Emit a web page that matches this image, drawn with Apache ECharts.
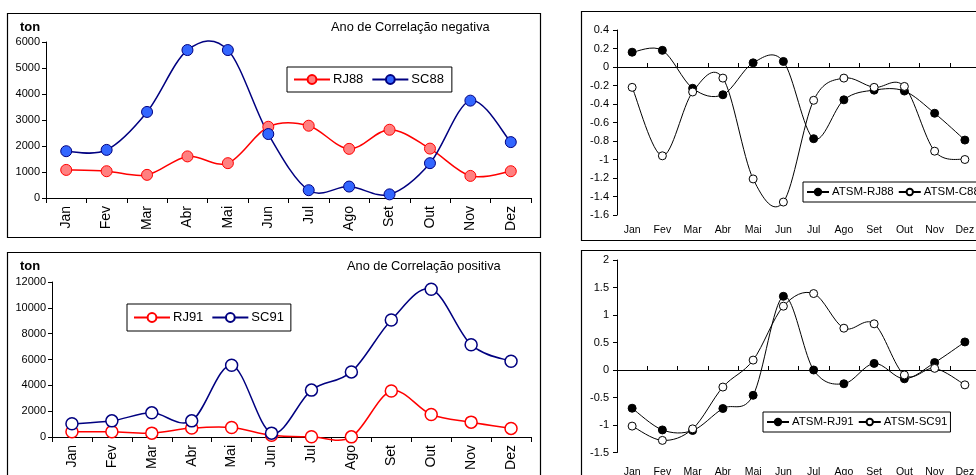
<!DOCTYPE html>
<html>
<head>
<meta charset="utf-8">
<script src="https://cdn.jsdelivr.net/npm/echarts@6/dist/echarts.min.js"></script>
<style>
html,body{margin:0;padding:0;background:#fff;}
#c{width:976px;height:475px;}
</style>
</head>
<body>
<div id="c"></div>
<script>
const months = ['Jan','Fev','Mar','Abr','Mai','Jun','Jul','Ago','Set','Out','Nov','Dez'];
const rj88 = [1080,1030,890,1600,1340,2740,2780,1890,2625,1900,850,1030];
const sc88 = [1800,1850,3310,5690,5690,2460,300,440,140,1340,3745,2150];
const rj91 = [400,400,300,690,740,130,20,10,3560,1740,1150,665];
const sc91 = [1020,1250,1870,1250,5550,300,3630,5040,9060,11440,7140,5860];
const atsmRJ88 = [0.16,0.18,-0.23,-0.30,0.045,0.06,-0.775,-0.355,-0.25,-0.26,-0.50,-0.79];
const atsmC88 = [-0.22,-0.96,-0.27,-0.12,-1.21,-1.46,-0.36,-0.12,-0.22,-0.21,-0.91,-1.00];
const atsmRJ91 = [-0.695,-1.09,-1.10,-0.70,-0.46,1.34,0.0,-0.25,0.12,-0.16,0.135,0.51];
const atsmSC91 = [-1.02,-1.28,-1.07,-0.31,0.18,1.16,1.39,0.76,0.84,-0.09,0.03,-0.27];

const FONT = '"Liberation Sans", Arial, sans-serif';
const TENSION = 1/6;
const chart = echarts.init(document.getElementById('c'), null, {renderer:'canvas'});

function leftXAxis(grid){
  return {type:'category', gridIndex:grid, data:months, boundaryGap:true,
    axisLine:{show:true, lineStyle:{color:'#000', width:1}},
    axisTick:{show:true, inside:false, length:5, lineStyle:{color:'#000'}},
    axisLabel:{rotate:90, fontSize:14, color:'#000', fontFamily:FONT, margin:8},
    splitLine:{show:false}};
}
function rightLabelAxis(grid, margin){
  return {type:'category', gridIndex:grid, data:months, boundaryGap:true, position:'bottom',
    axisLine:{show:false, onZero:false}, axisTick:{show:false},
    axisLabel:{fontSize:10.5, color:'#000', fontFamily:FONT, margin:margin},
    splitLine:{show:false}};
}
function rightZeroAxis(grid){
  return {type:'category', gridIndex:grid, data:months, boundaryGap:true, position:'bottom',
    axisLine:{show:true, onZero:true, lineStyle:{color:'#000', width:1}},
    axisTick:{show:true, inside:true, length:4, lineStyle:{color:'#000'}},
    axisLabel:{show:false}, splitLine:{show:false}};
}
function yAxis(grid, min, max, interval, fs, margin){
  return {type:'value', gridIndex:grid, min:min, max:max, interval:interval,
    axisLine:{show:true, lineStyle:{color:'#000', width:1}},
    axisTick:{show:true, inside:false, length:4, lineStyle:{color:'#000'}},
    axisLabel:{fontSize:fs, color:'#000', fontFamily:FONT, margin:margin, formatter:function(v){return '' + v;}},
    splitLine:{show:false}};
}
// markers (line itself hidden; the smoothed curve is drawn by the custom series)
function markerSeries(name, data, xi, yi, lineColor, fill, border, size, lw, bw){
  return {name:name, type:'line', data:data, xAxisIndex:xi, yAxisIndex:yi, z:3,
    symbol:'circle', symbolSize:size, showSymbol:true,
    lineStyle:{color:lineColor, width:lw, opacity:0},
    itemStyle:{color:fill, borderColor:border, borderWidth:bw},
    emphasis:{disabled:true}, silent:true};
}
// smoothed curve through the data points, positioned with the axes' own scales
function curveSeries(data, xi, yi, color, width){
  return {type:'custom', xAxisIndex:xi, yAxisIndex:yi, z:2, silent:true,
    data:data.map(function(v,i){return [i, v];}),
    renderItem:function(params, api){
      if (params.dataIndexInside !== 0) return null;
      const n = params.dataInsideLength;
      const p = [];
      for (let i = 0; i < n; i++) p.push(api.coord([api.value(0, i), api.value(1, i)]));
      let d = 'M' + p[0][0] + ' ' + p[0][1];
      for (let i = 0; i < n - 1; i++) {
        const p0 = p[i - 1] || p[i], p1 = p[i], p2 = p[i + 1], p3 = p[i + 2] || p[i + 1];
        const c1x = p1[0] + (p2[0] - p0[0]) * TENSION, c1y = p1[1] + (p2[1] - p0[1]) * TENSION;
        const c2x = p2[0] - (p3[0] - p1[0]) * TENSION, c2y = p2[1] - (p3[1] - p1[1]) * TENSION;
        d += ' C' + c1x + ' ' + c1y + ' ' + c2x + ' ' + c2y + ' ' + p2[0] + ' ' + p2[1];
      }
      return {type:'path', shape:{pathData:d}, style:{fill:'none', stroke:color, lineWidth:width}};
    }};
}
function legend(names, left, top, fs, iw, ih, gap, pad){
  return {data:names, left:left, top:top, orient:'horizontal', width:400,
    borderColor:'#000', borderWidth:1, backgroundColor:'#fff', padding:pad,
    itemWidth:iw, itemHeight:ih, itemGap:gap, selectedMode:false,
    lineStyle:{opacity:1},
    textStyle:{fontSize:fs, color:'#000', fontFamily:FONT, padding:[0,0,0,-2]}};
}

const option = {
  animation:false,
  backgroundColor:'#fff',
  grid:[
    {left:46, top:42, width:485, height:156, outerBoundsMode:'none', containLabel:false},
    {left:52, top:282, width:479, height:155, outerBoundsMode:'none', containLabel:false},
    {left:617, top:30, width:363, height:185, outerBoundsMode:'none', containLabel:false},
    {left:617, top:260, width:363, height:192.5, outerBoundsMode:'none', containLabel:false}
  ],
  xAxis:[
    leftXAxis(0), leftXAxis(1),
    rightLabelAxis(2, 10), rightZeroAxis(2),
    rightLabelAxis(3, 14), rightZeroAxis(3)
  ],
  yAxis:[
    yAxis(0, 0, 6000, 1000, 11, 6),
    yAxis(1, 0, 12000, 2000, 11, 6),
    yAxis(2, -1.6, 0.4, 0.2, 11, 8),
    yAxis(3, -1.5, 2, 0.5, 11, 8)
  ],
  legend:[
    legend(['RJ88','SC88'], 287, 67, 13, 36, 11, 8, [6,8,6,6]),
    legend(['RJ91','SC91'], 127, 304, 13, 36, 11, 8, [7,7,7,6]),
    legend(['ATSM-RJ88','ATSM-C88'], 803, 182, 11.5, 22, 8, 4, [4,3,4,3]),
    legend(['ATSM-RJ91','ATSM-SC91'], 763, 412, 11.5, 22, 8, 4, [4,3,4,3])
  ],
  series:[
    curveSeries(rj88, 0, 0, '#ff0000', 1.5),
    curveSeries(sc88, 0, 0, '#000080', 1.5),
    curveSeries(rj91, 1, 1, '#ff0000', 1.5),
    curveSeries(sc91, 1, 1, '#000080', 1.5),
    curveSeries(atsmRJ88, 2, 2, '#000', 1),
    curveSeries(atsmC88, 2, 2, '#000', 1),
    curveSeries(atsmRJ91, 4, 3, '#000', 1),
    curveSeries(atsmSC91, 4, 3, '#000', 1),
    markerSeries('RJ88', rj88, 0, 0, '#ff0000', '#ff8080', '#ff0000', 11, 1.5, 1),
    markerSeries('SC88', sc88, 0, 0, '#000080', '#3366ff', '#000080', 11, 1.5, 1),
    markerSeries('RJ91', rj91, 1, 1, '#ff0000', '#ffffff', '#ff0000', 12, 1.5, 1.5),
    markerSeries('SC91', sc91, 1, 1, '#000080', '#ffffff', '#000080', 12, 1.5, 1.5),
    markerSeries('ATSM-RJ88', atsmRJ88, 2, 2, '#000', '#000', '#000', 8, 1, 1),
    markerSeries('ATSM-C88', atsmC88, 2, 2, '#000', '#ffffff', '#000', 8, 1, 1),
    markerSeries('ATSM-RJ91', atsmRJ91, 4, 3, '#000', '#000', '#000', 8, 1, 1),
    markerSeries('ATSM-SC91', atsmSC91, 4, 3, '#000', '#ffffff', '#000', 8, 1, 1)
  ],
  graphic:[
    {type:'rect', shape:{x:7.5, y:13.5, width:533, height:224}, style:{fill:'none', stroke:'#000', lineWidth:1.2}, silent:true},
    {type:'rect', shape:{x:7.5, y:252.5, width:533, height:240}, style:{fill:'none', stroke:'#000', lineWidth:1.2}, silent:true},
    {type:'rect', shape:{x:581.5, y:11.5, width:420, height:229}, style:{fill:'none', stroke:'#000', lineWidth:1.2}, silent:true},
    {type:'rect', shape:{x:581.5, y:250.5, width:420, height:240}, style:{fill:'none', stroke:'#000', lineWidth:1.2}, silent:true},
    {type:'text', x:20, y:27, style:{text:'ton', fontSize:13, fontWeight:'bold', fontFamily:FONT, fill:'#000', textVerticalAlign:'middle'}, silent:true},
    {type:'text', x:331, y:27, style:{text:'Ano de Correlação negativa', fontSize:12.8, fontFamily:FONT, fill:'#000', textVerticalAlign:'middle'}, silent:true},
    {type:'text', x:20, y:266, style:{text:'ton', fontSize:13, fontWeight:'bold', fontFamily:FONT, fill:'#000', textVerticalAlign:'middle'}, silent:true},
    {type:'text', x:347, y:266, style:{text:'Ano de Correlação positiva', fontSize:12.8, fontFamily:FONT, fill:'#000', textVerticalAlign:'middle'}, silent:true}
  ]
};
chart.setOption(option);
</script>
</body>
</html>
